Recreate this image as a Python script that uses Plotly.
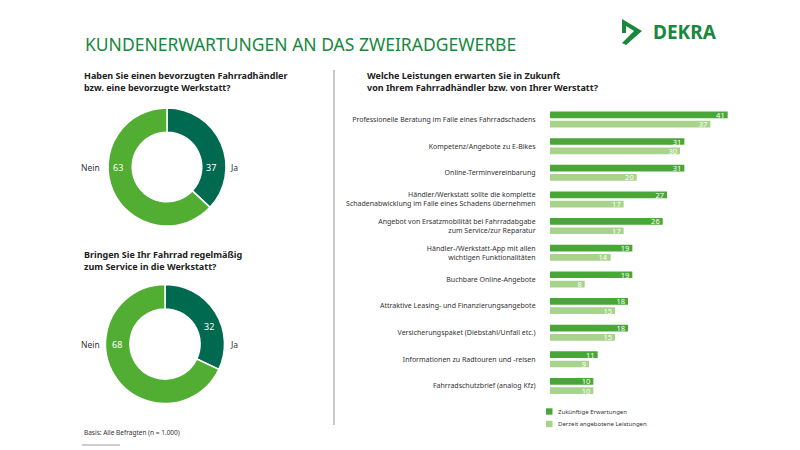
import plotly.graph_objects as go

# ---------------- data ----------------
title_main = "KUNDENERWARTUNGEN AN DAS ZWEIRADGEWERBE"

q1_title = "Haben Sie einen bevorzugten Fahrradhändler<br>bzw. eine bevorzugte Werkstatt?"
q1_labels = ["Ja", "Nein"]
q1_values = [37, 63]

q2_title = "Bringen Sie Ihr Fahrrad regelmäßig<br>zum Service in die Werkstatt?"
q2_labels = ["Ja", "Nein"]
q2_values = [32, 68]

bar_title = "Welche Leistungen erwarten Sie in Zukunft<br>von Ihrem Fahrradhändler bzw. von Ihrer Werstatt?"
categories = [
    "Professionelle Beratung im Falle eines Fahrradschadens",
    "Kompetenz/Angebote zu E-Bikes",
    "Online-Terminvereinbarung",
    "Händler/Werkstatt sollte die komplette<br>Schadenabwicklung im Falle eines Schadens übernehmen",
    "Angebot von Ersatzmobilität bei Fahrradabgabe<br>zum Service/zur Reparatur",
    "Händler-/Werkstatt-App mit allen<br>wichtigen Funktionalitäten",
    "Buchbare Online-Angebote",
    "Attraktive Leasing- und Finanzierungsangebote",
    "Versicherungspaket (Diebstahl/Unfall etc.)",
    "Informationen zu Radtouren und -reisen",
    "Fahrradschutzbrief (analog Kfz)",
]
future_name = "Zukünftige Erwartungen"
future_values = [41, 31, 31, 27, 26, 19, 19, 18, 18, 11, 10]
current_name = "Derzeit angebotene Leistungen"
current_values = [37, 30, 20, 17, 17, 14, 8, 15, 15, 9, 10]

basis_note = "Basis: Alle Befragten (n = 1.000)"

# ---------------- styles ----------------
OFF = 8  # page body margin
W, H = 800 - OFF, 450 - OFF
FONT = "Noto Sans"
GREEN_TITLE = "#17883c"
DONUT_DARK = "#006a50"
DONUT_LIGHT = "#52ad33"
BAR_DARK = "#4ba63a"
BAR_LIGHT = "#a8d38d"
TXT = "#333333"


def px(x):
    return (x - OFF) / W


def py(y):
    return 1 - (y - OFF) / H


fig = go.Figure()


def add_donut(labels, values, cx, cy, r):
    fig.add_trace(go.Pie(
        labels=labels, values=values, sort=False, direction="clockwise", rotation=0,
        hole=0.59, textinfo="none", hoverinfo="label+value",
        marker=dict(colors=[DONUT_DARK, DONUT_LIGHT], line=dict(color="white", width=1.5)),
        domain=dict(x=[px(cx - r), px(cx + r)], y=[py(cy + r), py(cy - r)]),
        showlegend=False,
    ))


add_donut(q1_labels, q1_values, 167, 167, 59)
add_donut(q2_labels, q2_values, 165, 344, 59.5)

for name, vals, col in [(future_name, future_values, BAR_DARK),
                        (current_name, current_values, BAR_LIGHT)]:
    fig.add_trace(go.Bar(
        y=categories, x=vals, name=name, orientation="h",
        marker=dict(color=col, line=dict(width=0)), text=vals, textposition="inside",
        insidetextanchor="end", constraintext="none", textangle=0,
        textfont=dict(color="white", size=7.5, family=FONT), showlegend=False,
    ))

x0, ppu = 550, 4.334
xmax = 42
fig.update_layout(
    width=W, height=H, margin=dict(l=0, r=0, t=0, b=0),
    paper_bgcolor="white", plot_bgcolor="white",
    font=dict(family=FONT, color=TXT),
    barmode="group", bargap=0.30, bargroupgap=0.28,
    xaxis=dict(domain=[px(x0), px(x0 + xmax * ppu)], range=[0, xmax], visible=False,
               fixedrange=True),
    yaxis=dict(domain=[py(399.3), py(106.2)], autorange="reversed", showgrid=False,
               zeroline=False, showline=False, ticks="outside", ticklen=12,
               tickcolor="rgba(0,0,0,0)", tickfont=dict(size=7, color=TXT, family=FONT)),
)

ann = []
shapes = []


def note(text, x, y, size, color=TXT, xa="center", ya="middle", align="center"):
    ann.append(dict(text=text, x=px(x), y=py(y), xref="paper", yref="paper",
                    xanchor=xa, yanchor=ya, align=align, showarrow=False,
                    font=dict(size=size, color=color, family=FONT)))


note(title_main, 83, 44, 17.5, GREEN_TITLE, xa="left")
note("<b>DEKRA</b>", 651, 32, 19, GREEN_TITLE, xa="left")
shapes.append(dict(type="path", xref="paper", yref="paper",
                   path=(f"M {px(622)},{py(19)} L {px(642)},{py(31)} L {px(626)},{py(45)} "
                         f"L {px(622)},{py(43)} L {px(634)},{py(31)} L {px(626)},{py(26)} "
                         f"L {px(626)},{py(33)} L {px(622)},{py(33)} Z"),
                   fillcolor=GREEN_TITLE, line=dict(width=0)))

for txt, x, y in [(q1_title, 82, 82), (q2_title, 82, 260), (bar_title, 365, 82)]:
    note(f"<b>{txt}</b>", x, y, 9, "#222222", xa="left", align="left")

donut_pos = [
    (q1_labels, q1_values, 167, [(211, 167), (118, 167)]),
    (q2_labels, q2_values, 344, [(209, 326), (117, 344)]),
]
for labels, values, cy, inner in donut_pos:
    for v, (tx, ty) in zip(values, inner):
        note(str(v), tx, ty, 9, "white")
    note(labels[1], 90, cy, 8.5)
    note(labels[0], 234, cy, 8.5)

shapes.append(dict(type="line", xref="paper", yref="paper", x0=px(334), x1=px(334),
                   y0=py(70), y1=py(425), line=dict(color="#b5b5b5", width=1.5)))

for i, (name, col) in enumerate([(future_name, BAR_DARK), (current_name, BAR_LIGHT)]):
    cy = 411.5 + i * 12.5
    shapes.append(dict(type="rect", xref="paper", yref="paper", x0=px(546), x1=px(552.5),
                       y0=py(cy + 3.2), y1=py(cy - 3.2), fillcolor=col, line=dict(width=0)))
    note(name, 555.5, cy, 6, xa="left")

note(basis_note, 82, 432.5, 6.5, xa="left")
shapes.append(dict(type="line", xref="paper", yref="paper", x0=px(82), x1=px(120),
                   y0=py(445), y1=py(445), line=dict(color="#9a9a9a", width=1)))

fig.update_layout(annotations=ann, shapes=shapes)

fig.write_html("out.html")
